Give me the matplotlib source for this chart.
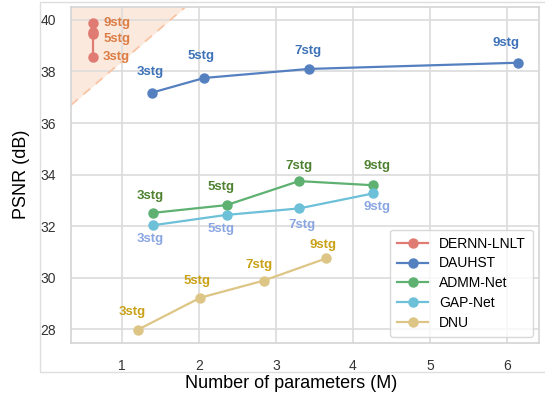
#psnr vs params chart
import matplotlib
matplotlib.use('Agg')
import matplotlib.pyplot as plt
from matplotlib.patches import Rectangle

plt.rcParams['font.family'] = ['Liberation Sans', 'DejaVu Sans']

#data
dernn_x = [0.62, 0.62, 0.62, 0.62]
dernn_y = [38.57, 39.44, 39.53, 39.87]
dernn_stg = ['3stg', '5stg', '', '9stg']

dauhst_x = [1.39, 2.07, 3.43, 6.14]
dauhst_y = [37.18, 37.75, 38.10, 38.34]

admm_x = [1.41, 2.36, 3.30, 4.26]
admm_y = [32.52, 32.82, 33.75, 33.59]

gap_x = [1.41, 2.36, 3.30, 4.26]
gap_y = [32.04, 32.44, 32.69, 33.27]

dnu_x = [1.21, 2.02, 2.84, 3.65]
dnu_y = [27.99, 29.23, 29.89, 30.75]

stages = ['3stg', '5stg', '7stg', '9stg']

#dashed boundary of the shaded corner
bound_x = [0.34, 1.82]
bound_y = [36.70, 40.49]

fig = plt.figure(figsize=(5.45, 3.98), dpi=100)
ax = fig.add_axes([0.1303, 0.1374, 0.8592, 0.8443])
ax.set_xlim(0.34, 6.42)
ax.set_ylim(27.46, 40.49)

#shaded region
ax.fill_between(bound_x, bound_y, [40.49, 40.49], color='#fce6d8', alpha=0.85, lw=0, zorder=0)
ax.plot(bound_x, bound_y, ls=(0, (5, 4)), color='#f8c4a4', lw=1.3, zorder=1)

ms = 6.5
ax.plot(dernn_x, dernn_y, '-o', color='#df7b72', ms=ms, lw=1.6, label='DERNN-LNLT', zorder=3)
ax.plot(dauhst_x, dauhst_y, '-o', color='#5580c0', ms=ms, lw=1.6, label='DAUHST', zorder=3)
ax.plot(admm_x, admm_y, '-o', color='#5eb171', ms=ms, lw=1.6, label='ADMM-Net', zorder=3)
ax.plot(gap_x, gap_y, '-o', color='#6cc0d8', ms=ms, lw=1.6, label='GAP-Net', zorder=3)
ax.plot(dnu_x, dnu_y, '-o', color='#dcc585', ms=ms, lw=1.6, label='DNU', zorder=3)

def label(xs, ys, names, offs, col):
    for x, y, n, o in zip(xs, ys, names, offs):
        if n == '':
            continue
        ax.annotate(n, (x, y), xytext=o, textcoords='offset pixels',
                    ha='center', va='center', fontsize=9.5, fontweight='bold', color=col)

label(dernn_x, dernn_y, dernn_stg, [(24, 0), (24, -5), (0, 0), (24, 0)], '#db7d45')
label(dauhst_x, dauhst_y, stages, [(-2, 21), (-3, 22), (-1, 18), (-12, 20)], '#3d72b8')
label(admm_x, admm_y, stages, [(-3, 17), (-6, 18), (0, 15), (4, 19)], '#4e8231')
label(gap_x, gap_y, stages, [(-3, -14), (-6, -14), (3, -17), (4, -14)], '#8aa6e2')
label(dnu_x, dnu_y, stages, [(-6, 18), (-3, 17), (-5, 16), (-3, 13)], '#c9a116')

#grid and spines
ax.set_xticks([1, 2, 3, 4, 5, 6])
ax.set_yticks([28, 30, 32, 34, 36, 38, 40])
ax.grid(True, color='#dcdcdc', lw=1.2, zorder=0)
ax.set_axisbelow(True)
for s in ax.spines.values():
    s.set_color('#d4d4d4')
    s.set_linewidth(1.2)
ax.tick_params(length=0, pad=11, labelsize=10, labelcolor='#333333')

leg = ax.legend(loc='lower right', fontsize=10, handlelength=2.2, labelspacing=0.42,
                borderpad=0.5, borderaxespad=0, frameon=True, bbox_to_anchor=(0.986, 0.019))
leg.get_frame().set_edgecolor('#d0d0d0')
leg.get_frame().set_linewidth(1.0)

#outer light box round the plot
fig.patches.append(Rectangle((40 / 545, 1 - 372 / 398), 1.0, 370 / 398,
                             transform=fig.transFigure, fill=False,
                             edgecolor='#dedede', lw=1.0, zorder=-1))

fig.text(291 / 545, 1 - 384 / 398, 'Number of parameters (M)', ha='center', va='center', fontsize=13)
fig.text(22 / 545, 1 - 174 / 398, 'PSNR (dB)', ha='center', va='center', rotation=90, fontsize=13)

fig.savefig('out.png', dpi=100)
